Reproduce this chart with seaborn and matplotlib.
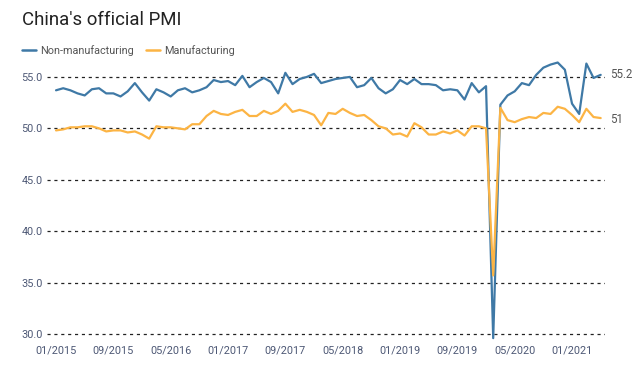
import pandas as pd
import seaborn as sns
from matplotlib import pyplot as plt

sns.set_theme(style="white")
plt.rcParams['font.family'] = ['Roboto', 'DejaVu Sans']

# Monthly official PMI, 01/2015 - 05/2021
non_manufacturing = [
    53.7, 53.9, 53.7, 53.4, 53.2, 53.8, 53.9, 53.4, 53.4, 53.1, 53.6, 54.4,
    53.5, 52.7, 53.8, 53.5, 53.1, 53.7, 53.9, 53.5, 53.7, 54.0, 54.7, 54.5,
    54.6, 54.2, 55.1, 54.0, 54.5, 54.9, 54.5, 53.4, 55.4, 54.3, 54.8, 55.0,
    55.3, 54.4, 54.6, 54.8, 54.9, 55.0, 54.0, 54.2, 54.9, 53.9, 53.4, 53.8,
    54.7, 54.3, 54.8, 54.3, 54.3, 54.2, 53.7, 53.8, 53.7, 52.8, 54.4, 53.5,
    54.1, 29.6, 52.3, 53.2, 53.6, 54.4, 54.2, 55.2, 55.9, 56.2, 56.4, 55.7,
    52.4, 51.4, 56.3, 54.9, 55.2,
]
manufacturing = [
    49.8, 49.9, 50.1, 50.1, 50.2, 50.2, 50.0, 49.7, 49.8, 49.8, 49.6, 49.7,
    49.4, 49.0, 50.2, 50.1, 50.1, 50.0, 49.9, 50.4, 50.4, 51.2, 51.7, 51.4,
    51.3, 51.6, 51.8, 51.2, 51.2, 51.7, 51.4, 51.7, 52.4, 51.6, 51.8, 51.6,
    51.3, 50.3, 51.5, 51.4, 51.9, 51.5, 51.2, 51.3, 50.8, 50.2, 50.0, 49.4,
    49.5, 49.2, 50.5, 50.1, 49.4, 49.4, 49.7, 49.5, 49.8, 49.3, 50.2, 50.2,
    50.0, 35.7, 52.0, 50.8, 50.6, 50.9, 51.1, 51.0, 51.5, 51.4, 52.1, 51.9,
    51.3, 50.6, 51.9, 51.1, 51.0,
]
months = pd.date_range('2015-01-01', periods=len(manufacturing), freq='MS')
month_labels = [m.strftime('%m/%Y') for m in months]
series_names = ['Non-manufacturing', 'Manufacturing']
colors = ['#3f79a6', '#fcb444']

df = pd.DataFrame({
    'idx': list(range(len(months))) * 2,
    'value': non_manufacturing + manufacturing,
    'series': [series_names[0]] * len(months) + [series_names[1]] * len(months),
})

fig = plt.figure(figsize=(6.43, 3.77), dpi=100)
ax = fig.add_axes([0.0731, 0.0976, 0.8678, 0.742])

sns.lineplot(data=df, x='idx', y='value', hue='series', hue_order=series_names,
             palette=colors, linewidth=1.6, ax=ax, legend=False, zorder=3)

ax.set_xlim(-1.26, 76.6)
ax.set_ylim(29.4, 56.6)
yt = [30, 35, 40, 45, 50, 55]
ax.set_yticks(yt)
ax.set_yticklabels([f'{v:.1f}' for v in yt])
xt = list(range(0, len(months), 8))
ax.set_xticks(xt)
ax.set_xticklabels([month_labels[i] for i in xt])
ax.tick_params(axis='both', length=0, labelsize=7.8, labelcolor='#4d5875', pad=4)
ax.tick_params(axis='y', pad=3)
for y in yt:
    ax.axhline(y, color='#222222', linewidth=0.9, linestyle=(0, (2.5, 3)), zorder=1)
for s in ax.spines.values():
    s.set_visible(False)
ax.set_xlabel('')
ax.set_ylabel('')

# last value labels
ax.text(77.3, non_manufacturing[-1], f'{non_manufacturing[-1]:g}', fontsize=8.3,
        color='#555555', va='center', ha='left', clip_on=False)
ax.text(77.3, manufacturing[-1] - 0.15, f'{manufacturing[-1]:g}', fontsize=8.3,
        color='#555555', va='center', ha='left', clip_on=False)

fig.text(0.034, 0.948, "China's official PMI", fontsize=13.4, color='#222222',
         ha='left', va='center')
handles = [plt.Line2D([], [], color=c, linewidth=1.8) for c in colors]
fig.legend(handles, series_names, loc='center left', bbox_to_anchor=(0.0337, 0.867),
           ncol=2, frameon=False, fontsize=7.8, handlelength=1.3, handletextpad=0.4,
           columnspacing=1.1, borderaxespad=0, borderpad=0, labelcolor='#555555')

fig.savefig('out.png', dpi=100)
